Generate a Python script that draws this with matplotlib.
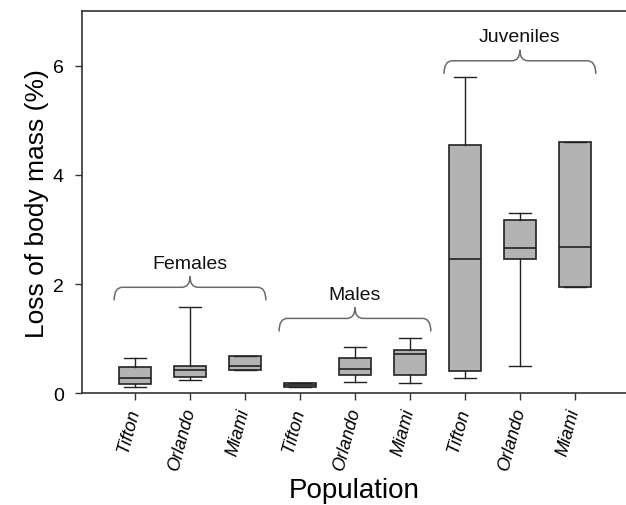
import matplotlib
matplotlib.use("Agg")
import matplotlib.pyplot as plt
from matplotlib.path import Path
from matplotlib.patches import PathPatch

plt.rcParams['font.family'] = ['Liberation Sans', 'DejaVu Sans']

labels = ["Tifton", "Orlando", "Miami", "Tifton", "Orlando", "Miami", "Tifton", "Orlando", "Miami"]
whislo = [0.12, 0.25, 0.42, 0.12, 0.21, 0.18, 0.27, 0.50, 1.94]
q1     = [0.16, 0.30, 0.42, 0.12, 0.33, 0.33, 0.40, 2.46, 1.94]
med    = [0.27, 0.42, 0.49, 0.15, 0.45, 0.71, 2.46, 2.66, 2.68]
q3     = [0.475, 0.49, 0.69, 0.18, 0.64, 0.79, 4.55, 3.17, 4.61]
whishi = [0.65, 1.58, 0.69, 0.18, 0.85, 1.02, 5.79, 3.30, 4.61]

groups = ["Females", "Males", "Juveniles"]
group_centers = [2, 5, 8]
group_bar_y = [1.94, 1.37, 6.09]

fig = plt.figure(figsize=(6.26, 5.06), dpi=100)
ax = fig.add_axes([0.131, 0.221, 0.869, 0.755])

positions = list(range(1, len(labels) + 1))
stats = []
for i in range(len(labels)):
    stats.append(dict(whislo=whislo[i], q1=q1[i], med=med[i], q3=q3[i],
                      whishi=whishi[i], fliers=[], label=labels[i]))

ax.bxp(stats, positions=positions, widths=0.59, patch_artist=True,
       showfliers=False, capwidths=0.4,
       boxprops=dict(facecolor='#b3b3b3', edgecolor='#222222', linewidth=1.2),
       medianprops=dict(color='#222222', linewidth=1.2),
       whiskerprops=dict(color='#222222', linewidth=1.0),
       capprops=dict(color='#222222', linewidth=1.0))

ax.set_xlim(0.036, 9.93)
ax.set_ylim(0, 7)
ax.set_yticks([0, 2, 4, 6])
ax.set_xticks(positions)
ax.set_xticklabels(labels, rotation=75, ha='right', va='center',
                   rotation_mode='anchor', fontstyle='italic', fontsize=13)
ax.tick_params(axis='y', labelsize=14, direction='out', length=5, width=1,
               color='#333333', pad=8)
ax.tick_params(axis='x', direction='out', length=5, width=1, color='#333333', pad=6)
for s in ['left', 'bottom', 'top']:
    ax.spines[s].set_color('#333333')
    ax.spines[s].set_linewidth(1.2)
ax.spines['right'].set_visible(False)

ax.set_ylabel("Loss of body mass (%)", fontsize=19, labelpad=3)
ax.set_xlabel("Population", fontsize=20, labelpad=3)

def bracket(xc, yb, half=1.38, drop=0.24, tip=0.2, r=0.15):
    x0, x1 = xc - half, xc + half
    verts = [(x0, yb - drop), (x0, yb), (x0 + r, yb),
             (xc - r, yb), (xc, yb), (xc, yb + tip),
             (xc, yb), (xc + r, yb),
             (x1 - r, yb), (x1, yb), (x1, yb - drop)]
    codes = [Path.MOVETO, Path.CURVE3, Path.CURVE3,
             Path.LINETO, Path.CURVE3, Path.CURVE3,
             Path.CURVE3, Path.CURVE3,
             Path.LINETO, Path.CURVE3, Path.CURVE3]
    ax.add_patch(PathPatch(Path(verts, codes), facecolor='none',
                           edgecolor='#6a6a6a', linewidth=1.1))

for g, xc, yb in zip(groups, group_centers, group_bar_y):
    bracket(xc, yb)
    ax.text(xc, yb + 0.44, g, ha='center', va='center', fontsize=14, color='#111111')

fig.savefig("out.png", dpi=100)
